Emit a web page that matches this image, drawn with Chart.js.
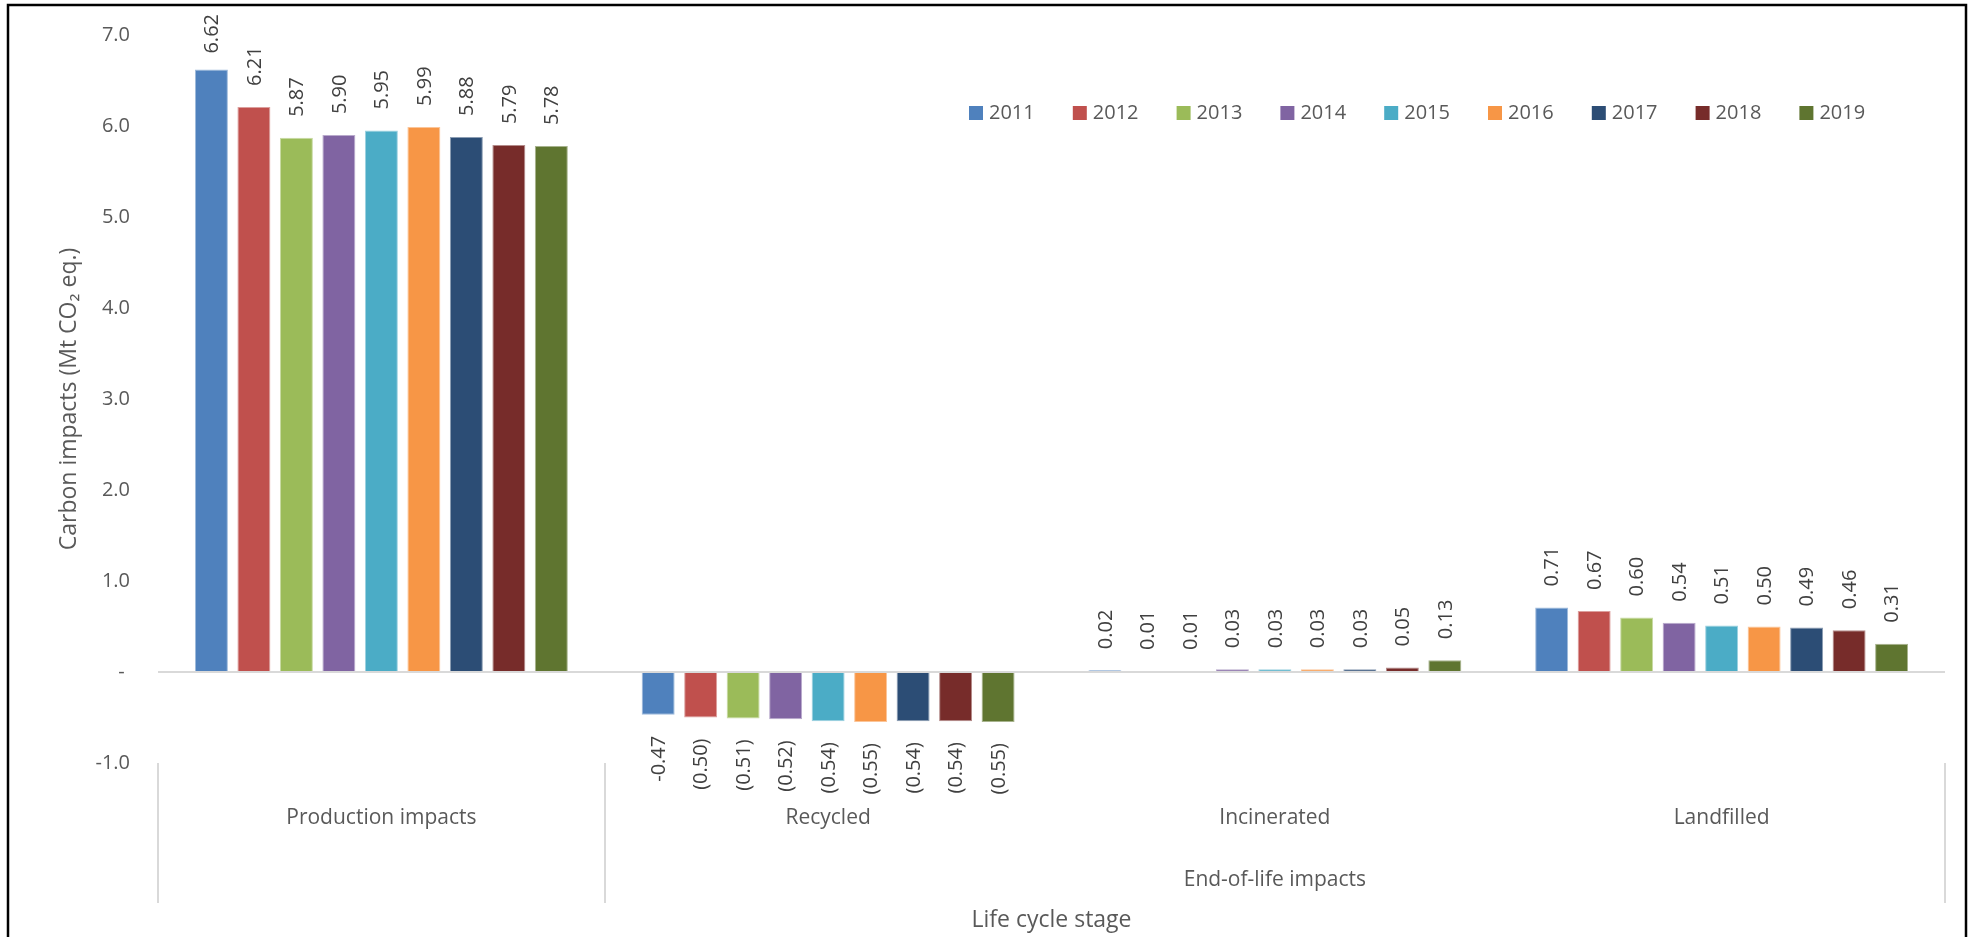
<!DOCTYPE html>
<html>
<head>
<meta charset="utf-8">
<script src="https://cdn.jsdelivr.net/npm/chart.js@4.4.1/dist/chart.umd.min.js"></script>
<style>
  html, body { margin: 0; padding: 0; background: #ffffff; }
  canvas { display: block; }
</style>
</head>
<body>
<canvas id="chart" width="1973" height="937"></canvas>
<script>
// Life cycle stages on the category axis
const categories = ['Production impacts', 'Recycled', 'Incinerated', 'Landfilled'];
// Second-level label grouping the end-of-life stages (category indices 1..3)
const groupLabel = 'End-of-life impacts';
const groupFirst = 1;
const groupLast = 3;

// Years shown as series
const years = ['2011', '2012', '2013', '2014', '2015', '2016', '2017', '2018', '2019'];

// Carbon impacts (Mt CO2 eq.) per stage: production, recycled, incinerated, landfilled
const v2011 = [6.62, -0.47, 0.02, 0.71];
const v2012 = [6.21, -0.50, 0.01, 0.67];
const v2013 = [5.87, -0.51, 0.01, 0.60];
const v2014 = [5.90, -0.52, 0.03, 0.54];
const v2015 = [5.95, -0.54, 0.03, 0.51];
const v2016 = [5.99, -0.55, 0.03, 0.50];
const v2017 = [5.88, -0.54, 0.03, 0.49];
const v2018 = [5.79, -0.54, 0.05, 0.46];
const v2019 = [5.78, -0.55, 0.13, 0.31];
const seriesValues = [v2011, v2012, v2013, v2014, v2015, v2016, v2017, v2018, v2019];

// Value axis ticks
const yMin = -1;
const yMax = 7;
const yStep = 1;

// Series whose negative labels use a minus sign rather than accounting brackets
const minusSignSeries = ['2011'];

const colors = ['#4F81BD', '#C0504D', '#9BBB59', '#8064A2', '#4BACC6',
                '#F79646', '#2C4D75', '#772C2A', '#5F7530'];

function lighten(hex, t) {
  const n = parseInt(hex.slice(1), 16);
  const r = (n >> 16) & 255, g = (n >> 8) & 255, b = n & 255;
  const m = c => Math.round(c + (255 - c) * t);
  return 'rgb(' + m(r) + ',' + m(g) + ',' + m(b) + ')';
}

const FONT = "'Open Sans', 'DejaVu Sans', sans-serif";
const AXIS_TEXT = '#595959';
const LABEL_TEXT = '#404040';
const GRID = '#D9D9D9';

function formatValue(v, seriesName) {
  if (v < 0) {
    const a = Math.abs(v).toFixed(2);
    return minusSignSeries.includes(seriesName) ? '-' + a : '(' + a + ')';
  }
  return v.toFixed(2);
}

const datasets = years.map((y, i) => ({
  label: y,
  data: seriesValues[i],
  backgroundColor: colors[i],
  borderColor: lighten(colors[i], 0.45),
  borderWidth: 1,
  categoryPercentage: 0.856,
  barPercentage: 0.776
}));

// Frame, legend, group label, category separators and value labels
const decorations = {
  id: 'decorations',
  beforeDraw(chart) {
    const ctx = chart.ctx;
    ctx.save();
    ctx.fillStyle = '#ffffff';
    ctx.fillRect(0, 0, chart.width, chart.height);
    ctx.restore();
  },
  afterDraw(chart) {
    const ctx = chart.ctx;
    const area = chart.chartArea;
    const catW = (area.right - area.left) / categories.length;

    ctx.save();
    // separators of the two-level category axis
    ctx.strokeStyle = GRID;
    ctx.lineWidth = 2;
    const sepTop = area.bottom;
    const sepBottom = area.bottom + 140;
    [area.left, area.left + catW * groupFirst, area.right].forEach(x => {
      ctx.beginPath();
      ctx.moveTo(Math.round(x), sepTop);
      ctx.lineTo(Math.round(x), sepBottom);
      ctx.stroke();
    });

    // group label
    ctx.fillStyle = AXIS_TEXT;
    ctx.font = '21px ' + FONT;
    ctx.textAlign = 'center';
    ctx.textBaseline = 'middle';
    const gx = (area.left + catW * groupFirst + area.left + catW * (groupLast + 1)) / 2;
    ctx.fillText(groupLabel, gx, area.bottom + 117);

    // legend
    ctx.font = '20px ' + FONT;
    ctx.textAlign = 'left';
    chart.data.datasets.forEach((ds, i) => {
      const bx = 969 + i * 103.8;
      ctx.fillStyle = ds.backgroundColor;
      ctx.fillRect(bx, 106, 14, 14);
      ctx.fillStyle = AXIS_TEXT;
      ctx.fillText(ds.label, bx + 20, 113);
    });

    // frame
    ctx.strokeStyle = '#000000';
    ctx.lineWidth = 2.5;
    ctx.strokeRect(8, 5, 1958, 960);
    ctx.restore();
  },
  afterDatasetsDraw(chart) {
    const ctx = chart.ctx;
    ctx.save();
    ctx.font = '20px ' + FONT;
    ctx.fillStyle = LABEL_TEXT;
    ctx.textBaseline = 'middle';
    const gap = 21;
    chart.data.datasets.forEach((ds, di) => {
      const meta = chart.getDatasetMeta(di);
      meta.data.forEach((bar, j) => {
        const v = ds.data[j];
        const text = formatValue(v, ds.label);
        const w = ctx.measureText(text).width;
        ctx.save();
        if (v >= 0) {
          let start = bar.y - gap;
          if (start - w < 14) start = 14 + w;
          ctx.translate(bar.x, start);
          ctx.rotate(-Math.PI / 2);
          ctx.textAlign = 'left';
        } else {
          ctx.translate(bar.x, bar.y + gap);
          ctx.rotate(-Math.PI / 2);
          ctx.textAlign = 'right';
        }
        ctx.fillText(text, 0, 1);
        ctx.restore();
      });
    });
    ctx.restore();
  }
};

new Chart(document.getElementById('chart'), {
  type: 'bar',
  data: { labels: categories, datasets: datasets },
  options: {
    responsive: false,
    animation: false,
    devicePixelRatio: 1,
    layout: { padding: { left: 52, right: 28, top: 35, bottom: 0 } },
    plugins: {
      legend: { display: false },
      tooltip: { enabled: false }
    },
    scales: {
      x: {
        grid: { display: false, drawTicks: false },
        border: { display: false },
        ticks: {
          color: AXIS_TEXT,
          font: { family: FONT, size: 21 },
          padding: 42,
          maxRotation: 0,
          autoSkip: false
        },
        title: {
          display: true,
          text: 'Life cycle stage',
          color: AXIS_TEXT,
          font: { family: FONT, size: 23 },
          padding: { top: 0, bottom: 3 }
        },
        afterFit(scale) { scale.height = 174; }
      },
      y: {
        min: yMin,
        max: yMax,
        grid: {
          drawTicks: false,
          lineWidth: 2,
          color: c => (c.tick && c.tick.value === 0 ? GRID : 'rgba(0,0,0,0)')
        },
        border: { display: false },
        ticks: {
          stepSize: yStep,
          color: AXIS_TEXT,
          font: { family: FONT, size: 20 },
          padding: 28,
          callback: v => (v === 0 ? '- ' : Number(v).toFixed(1))
        },
        title: {
          display: true,
          text: 'Carbon impacts (Mt CO\u2082 eq.)',
          color: AXIS_TEXT,
          font: { family: FONT, size: 23 },
          padding: { top: 4, bottom: 0 }
        },
        afterFit(scale) {
          scale.width = 106;
          scale.paddingTop = 0;
          scale.paddingBottom = 0;
        }
      }
    }
  },
  plugins: [decorations]
});
</script>
</body>
</html>
